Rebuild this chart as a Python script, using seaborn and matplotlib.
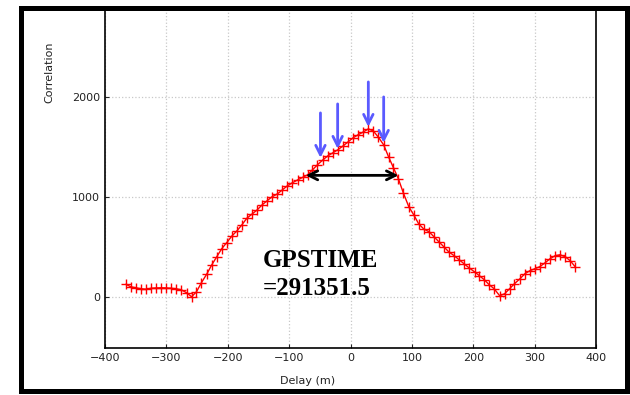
import numpy as np
import pandas as pd
import seaborn as sns
from matplotlib import pyplot as plt
from matplotlib.patches import Rectangle

# Data
delay = [-366, -358, -350, -341, -333, -325, -317, -308, -300, -292,
         -284, -276, -267, -259, -251, -243, -234, -226, -218, -210,
         -202, -193, -185, -177, -169, -160, -152, -144, -136, -128,
         -119, -111, -103, -95, -86, -78, -70, -62, -54, -45,
         -37, -29, -21, -12, -4, 4, 12, 21, 29, 37,
         45, 54, 62, 70, 78, 86, 95, 103, 111, 119,
         128, 136, 144, 152, 160, 169, 177, 185, 193, 202,
         210, 218, 226, 234, 243, 251, 259, 267, 276, 284,
         292, 300, 308, 317, 325, 333, 341, 350, 358, 366]
correlation = [125, 100, 90, 80, 75, 85, 88, 90, 88, 85,
               80, 70, 40, 0, 50, 140, 230, 320, 400, 480,
               540, 610, 660, 720, 785, 830, 870, 920, 960, 1000,
               1030, 1070, 1110, 1140, 1170, 1195, 1220, 1270, 1320, 1370,
               1410, 1440, 1470, 1510, 1550, 1590, 1620, 1650, 1680, 1660,
               1600, 1520, 1400, 1290, 1180, 1040, 900, 820, 730, 680,
               650, 600, 550, 500, 450, 410, 370, 330, 290, 250,
               210, 170, 120, 80, 10, 30, 80, 130, 180, 230,
               260, 280, 300, 340, 380, 410, 420, 400, 360, 300]

# blue arrows (x, tail y, head y)
arrow_x = [-49, -21, 29, 54]
arrow_top = [1840, 1930, 2150, 2000]
arrow_tip = [1390, 1480, 1700, 1540]

# width of the peak
span_left, span_right, span_y = -73, 78, 1215

df = pd.DataFrame({"delay": delay, "corr": correlation})

sns.set_style("white")
fig = plt.figure(figsize=(6.3, 3.95), dpi=100)
ax = fig.add_axes([0.1667, 0.1197, 0.7794, 0.855])

sns.lineplot(x="delay", y="corr", data=df, ax=ax, color="red",
             marker="+", markersize=6.5, markeredgewidth=1.0,
             markeredgecolor="red", linewidth=1.0)

ax.set_xlim(-400, 400)
ax.set_ylim(-510, 2870)
ax.set_xticks([-400, -300, -200, -100, 0, 100, 200, 300, 400])
ax.set_yticks([0, 1000, 2000])
ax.grid(True, color="#c8c8c8", linestyle=":", linewidth=0.9)
ax.tick_params(direction="in", length=3, labelsize=8, labelcolor="#222222",
               left=True, bottom=True)
for s in ax.spines.values():
    s.set_color("black")
    s.set_linewidth(1.2)

ax.set_xlabel("Delay (m)", fontsize=8, color="#222222")
ax.set_ylabel("Correlation", fontsize=8, color="#222222")
ax.xaxis.set_label_coords(0.413, -0.083)
ax.yaxis.set_label_coords(-0.104, 0.817)

for x, y0, y1 in zip(arrow_x, arrow_top, arrow_tip):
    ax.annotate("", xy=(x, y1), xytext=(x, y0),
                arrowprops=dict(arrowstyle="->", color="#5a5aff", lw=2,
                                mutation_scale=17, shrinkA=0, shrinkB=0))

ax.annotate("", xy=(span_right, span_y), xytext=(span_left, span_y),
            arrowprops=dict(arrowstyle="<->", color="black", lw=2,
                            mutation_scale=16, shrinkA=0, shrinkB=0))

ax.text(-143, 297, "GPSTIME", family="Liberation Serif", fontweight="bold",
        fontsize=18, color="black", ha="left", va="baseline")
ax.text(-143, 17, "=291351.5", family="Liberation Serif", fontweight="bold",
        fontsize=18, color="black", ha="left", va="baseline")

# thick frame around the whole picture
fig.add_artist(Rectangle((21 / 630, 4.5 / 395), 606 / 630, 383 / 395,
                         transform=fig.transFigure, fill=False,
                         edgecolor="black", linewidth=3.6))

plt.savefig("out.png", dpi=100)
